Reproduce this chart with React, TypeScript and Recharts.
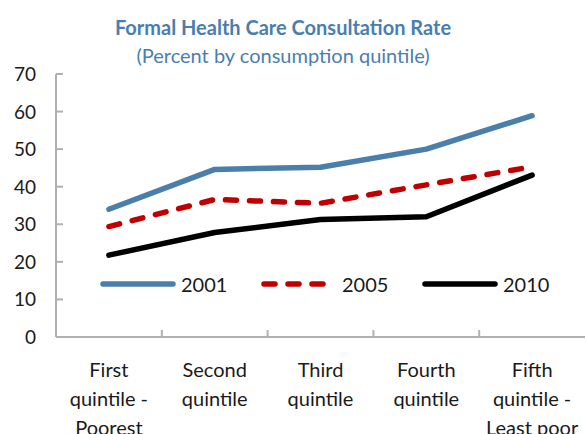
import { LineChart, Line, XAxis, YAxis } from 'recharts'

const quintiles = [
  ['First', 'quintile -', 'Poorest'],
  ['Second', 'quintile'],
  ['Third', 'quintile'],
  ['Fourth', 'quintile'],
  ['Fifth', 'quintile -', 'Least poor'],
]
const rate2001 = [34.0, 44.6, 45.2, 50.0, 58.9]
const rate2005 = [29.4, 36.6, 35.6, 40.5, 45.3]
const rate2010 = [21.8, 27.8, 31.3, 32.0, 43.1]
const yTicks = [0, 10, 20, 30, 40, 50, 60, 70]

const series = [
  { key: 's2001', name: '2001', color: '#4A7EAB', dash: undefined as string | undefined },
  { key: 's2005', name: '2005', color: '#C00000', dash: '11 13' },
  { key: 's2010', name: '2010', color: '#000000', dash: undefined as string | undefined },
]

const data = quintiles.map((q, i) => ({
  x: i + 0.5,
  s2001: rate2001[i],
  s2005: rate2005[i],
  s2010: rate2010[i],
}))

// label ticks at band centres, short inward marks at band edges
const xTicks = [0.5, 1, 1.5, 2, 2.5, 3, 3.5, 4, 4.5]

const FONT = 'Lato, "Open Sans", sans-serif'
const FRAME = '#B0B0B0'

function XTick({ x, y, payload }: any) {
  const v = payload.value as number
  if (Number.isInteger(v)) {
    return <line x1={x} x2={x} y1={y} y2={y - 7} stroke={FRAME} strokeWidth={2} />
  }
  const lines = quintiles[Math.floor(v)] || []
  return (
    <g>
      {lines.map((t, i) => (
        <text key={i} x={x} y={y + 40 + i * 29} textAnchor="middle" fontSize={20} fontFamily={FONT} fill="#1a1a1a">
          {t}
        </text>
      ))}
    </g>
  )
}

function YTick({ x, y, payload }: any) {
  return (
    <g>
      <line x1={x} x2={x + 7} y1={y} y2={y} stroke={FRAME} strokeWidth={2} />
      <text x={x - 20} y={y + 7} textAnchor="end" fontSize={19} fontFamily={FONT} fill="#1a1a1a">
        {payload.value}
      </text>
    </g>
  )
}

export default function App() {
  return (
    <div style={{ position: 'absolute', left: 0, top: 0, width: 586, height: 434, background: '#fff', fontFamily: FONT }}>
      <div style={{ position: 'absolute', left: 0, width: 566, top: 14, textAlign: 'center', fontSize: 20, fontWeight: 700, color: '#4A7EB0', lineHeight: '26px' }}>
        Formal Health Care Consultation Rate
      </div>
      <div style={{ position: 'absolute', left: 0, width: 566, top: 42, textAlign: 'center', fontSize: 20, color: '#4A7EB0', lineHeight: '26px' }}>
        (Percent by consumption quintile)
      </div>
      <div style={{ position: 'absolute', left: 0, top: 0 }}>
        <LineChart width={586} height={434} data={data} margin={{ top: 74, right: 1, left: 0, bottom: 0 }}>
          <XAxis
            dataKey="x"
            type="number"
            domain={[0, 5]}
            ticks={xTicks}
            interval={0}
            height={97}
            tickSize={0}
            tickMargin={0}
            tickLine={false}
            axisLine={{ stroke: FRAME, strokeWidth: 2 }}
            tick={<XTick />}
          />
          <XAxis xAxisId="top" orientation="top" type="number" domain={[0, 5]} height={0} tick={false} tickLine={false} axisLine={{ stroke: FRAME, strokeWidth: 2 }} />
          <YAxis
            domain={[0, 70]}
            ticks={yTicks}
            interval={0}
            width={56}
            tickSize={0}
            tickMargin={0}
            tickLine={false}
            axisLine={{ stroke: FRAME, strokeWidth: 2 }}
            tick={<YTick />}
          />
          <YAxis yAxisId="right" orientation="right" domain={[0, 70]} width={0} tick={false} tickLine={false} axisLine={{ stroke: FRAME, strokeWidth: 2 }} />
          {series.map((s) => (
            <Line
              key={s.key}
              dataKey={s.key}
              stroke={s.color}
              strokeWidth={5.5}
              strokeDasharray={s.dash}
              strokeLinecap="round"
              strokeLinejoin="round"
              dot={false}
              activeDot={false}
              isAnimationActive={false}
            />
          ))}
        </LineChart>
      </div>
      <div style={{ position: 'absolute', left: 100, top: 272, display: 'flex' }}>
        {series.map((s) => (
          <div key={s.key} style={{ width: 161, display: 'flex', alignItems: 'center', height: 24 }}>
            <svg width={76} height={12}>
              <line x1={3} x2={73} y1={6} y2={6} stroke={s.color} strokeWidth={5.5} strokeLinecap="round" strokeDasharray={s.dash} />
            </svg>
            <span style={{ fontSize: 20, color: '#1a1a1a', marginLeft: 5 }}>{s.name}</span>
          </div>
        ))}
      </div>
    </div>
  )
}
